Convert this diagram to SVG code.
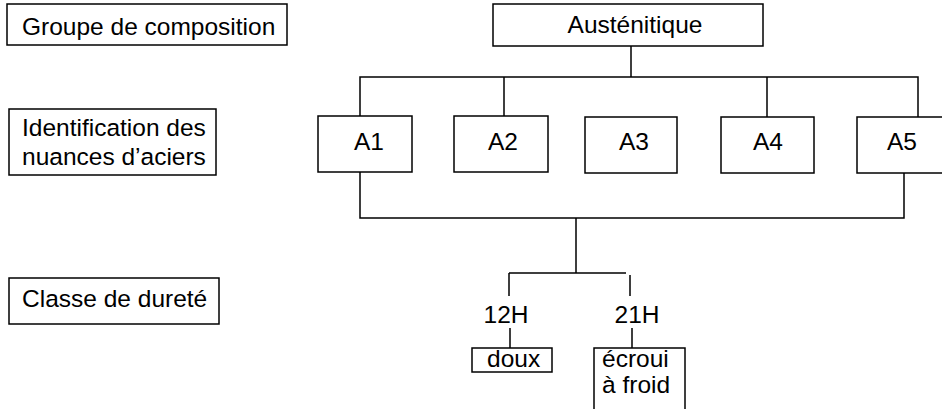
<svg xmlns="http://www.w3.org/2000/svg" width="942" height="409" viewBox="0 0 942 409">
<style>
rect{fill:#fff;stroke:#000;stroke-width:1.5}
text{font-family:"Liberation Sans",Arial,sans-serif;font-size:24.5px;fill:#000}
.c{text-anchor:middle}
#connectors path{fill:none;stroke:#000;stroke-width:1.5}
</style>
<g id="connectors">
<path d="M631,46 V77 M360,116 V77 H918 V117 M504,77 V116 M767,77 V117"/>
<path d="M360,172 V218 H904 V173 M576,218 V273 M509,273 H626 M509,273 V296 M630,275 V296"/>
<path d="M510,328 V348 M632,328 V348"/>
</g>
<g id="label-groupe"><rect x="7" y="4" width="280" height="41"/><text x="22" y="35">Groupe de composition</text></g>
<g id="label-identification"><rect x="9" y="109" width="207" height="66"/><text x="22" y="136">Identification des</text><text x="22" y="165">nuances d’aciers</text></g>
<g id="label-classe"><rect x="9" y="278" width="210" height="46"/><text x="22" y="307">Classe de dureté</text></g>
<g id="austenitique"><rect x="493" y="4" width="270" height="42"/><text class="c" x="635" y="33">Austénitique</text></g>
<g id="A1"><rect x="318" y="116" width="94" height="56"/><text class="c" x="369" y="150">A1</text></g>
<g id="A2"><rect x="454" y="116" width="94" height="56"/><text class="c" x="503" y="150">A2</text></g>
<g id="A3"><rect x="585" y="117" width="92" height="56"/><text class="c" x="634" y="150">A3</text></g>
<g id="A4"><rect x="721" y="117" width="93" height="56"/><text class="c" x="768" y="150">A4</text></g>
<g id="A5"><rect x="857" y="117" width="95" height="56"/><text class="c" x="902" y="150">A5</text></g>
<g id="h12"><text class="c" x="506" y="323">12H</text></g>
<g id="h21"><text class="c" x="637" y="323">21H</text></g>
<g id="doux"><rect x="472" y="348" width="80" height="24"/><text x="487" y="367">doux</text></g>
<g id="ecroui"><rect x="594" y="348" width="91" height="70"/><text x="602" y="367">écroui</text><text x="602" y="393">à froid</text></g>
</svg>
